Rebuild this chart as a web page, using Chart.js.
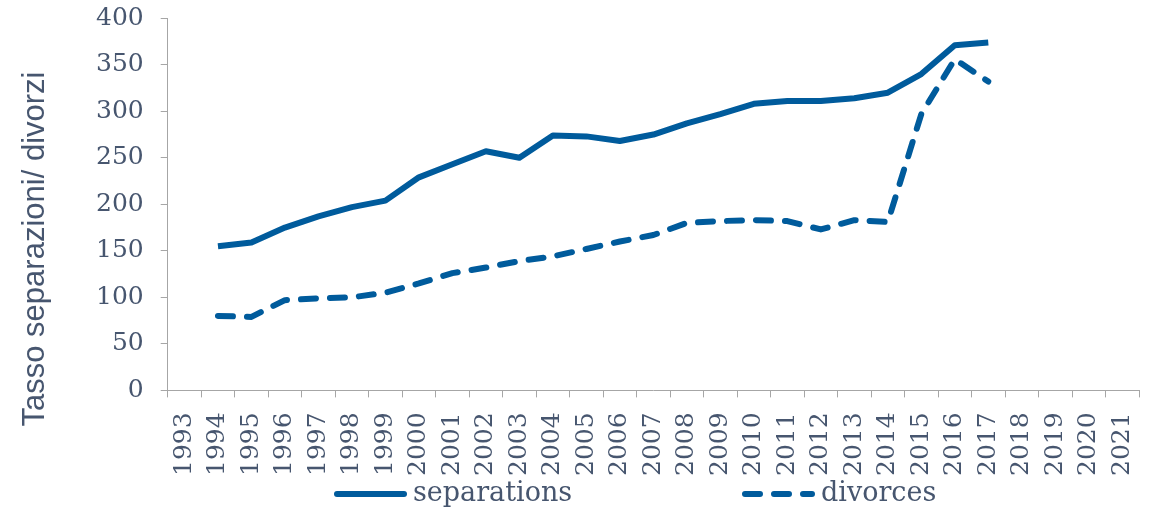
<!DOCTYPE html>
<html>
<head>
<meta charset="utf-8">
<script src="https://cdn.jsdelivr.net/npm/chart.js@4"></script>
<style>
  html, body { margin: 0; padding: 0; background: #fff; }
  #wrap { width: 1156px; height: 510px; }
</style>
</head>
<body>
<div id="wrap"><canvas id="chart" width="1156" height="510"></canvas></div>
<script>
const years = ["1993","1994","1995","1996","1997","1998","1999","2000","2001","2002","2003","2004","2005","2006","2007","2008","2009","2010","2011","2012","2013","2014","2015","2016","2017","2018","2019","2020","2021"];
const separations = [null, 155, 159, 175, 187, 197, 204, 229, 243, 257, 250, 274, 273, 268, 275, 287, 297, 308, 311, 311, 314, 320, 340, 371, 374, null, null, null, null];
const divorces = [null, 80, 79, 97, 99, 100, 105, 115, 126, 132, 139, 144, 152, 160, 167, 180, 182, 183, 182, 173, 183, 181, 297, 356, 332, null, null, null, null];
const yTicks = [0, 50, 100, 150, 200, 250, 300, 350, 400];
const yTitle = "Tasso separazioni/ divorzi";

const blue = "#005b9c";
const textColor = "#47566f";
const axisColor = "#a6a6a6";
const serif = "'DejaVu Serif', 'Liberation Serif', serif";

// y title sits a bit below the plot centre in the original, so draw it here
const sideTitle = {
  id: "sideTitle",
  afterDraw(chart) {
    const ctx = chart.ctx;
    ctx.save();
    ctx.translate(35, 249);
    ctx.rotate(-Math.PI / 2);
    ctx.fillStyle = textColor;
    ctx.font = "31px 'Liberation Sans', Arial, sans-serif";
    ctx.textAlign = "center";
    ctx.textBaseline = "middle";
    ctx.fillText(yTitle, 0, 0);
    ctx.restore();
  }
};

// legend drawn at the bottom with a wide gap between the two entries
const bottomLegend = {
  id: "bottomLegend",
  afterDraw(chart) {
    const ctx = chart.ctx;
    const y = 494;
    const starts = [334, 742];
    chart.data.datasets.forEach((ds, i) => {
      const x = starts[i];
      ctx.save();
      ctx.strokeStyle = ds.borderColor;
      ctx.lineWidth = ds.borderWidth;
      ctx.lineCap = "round";
      ctx.setLineDash(ds.borderDash || []);
      ctx.beginPath();
      ctx.moveTo(x + 3, y);
      ctx.lineTo(x + 70, y);
      ctx.stroke();
      ctx.setLineDash([]);
      ctx.fillStyle = textColor;
      ctx.font = "27px " + serif;
      ctx.textBaseline = "middle";
      ctx.fillText(ds.label, x + 79, y);
      ctx.restore();
    });
  }
};

new Chart(document.getElementById("chart"), {
  type: "line",
  data: {
    labels: years,
    datasets: [{
      label: "separations",
      data: separations,
      borderColor: blue,
      borderWidth: 6,
      borderJoinStyle: "round",
      pointRadius: 0,
      tension: 0,
      fill: false,
    }, {
      label: "divorces",
      data: divorces,
      borderColor: blue,
      borderWidth: 6,
      borderDash: [15, 14],
      borderCapStyle: "round",
      borderJoinStyle: "round",
      pointRadius: 0,
      tension: 0,
      fill: false,
    }],
  },
  options: {
    responsive: false,
    animation: false,
    layout: { autoPadding: false, padding: { left: 79, top: 16, right: 17, bottom: 19 } },
    scales: {
      x: {
        offset: true,
        grid: { offset: true, drawOnChartArea: false, drawTicks: true, tickLength: 7, color: axisColor },
        border: { color: axisColor },
        ticks: {
          color: textColor,
          font: { family: serif, size: 25, lineHeight: 0.6 },
          minRotation: 90,
          maxRotation: 90,
          autoSkip: false,
          padding: 15,
        },
      },
      y: {
        min: 0,
        max: 400,
        afterBuildTicks: (axis) => { axis.ticks = yTicks.map(v => ({ value: v })); },
        grid: { drawOnChartArea: false, drawTicks: true, tickLength: 7, color: axisColor },
        border: { color: axisColor },
        ticks: {
          color: textColor,
          font: { family: serif, size: 25, lineHeight: 0.1 },
          padding: 17,
        },
      },
    },
    plugins: {
      legend: { display: false },
      tooltip: { enabled: false },
    },
  },
  plugins: [sideTitle, bottomLegend],
});
</script>
</body>
</html>
